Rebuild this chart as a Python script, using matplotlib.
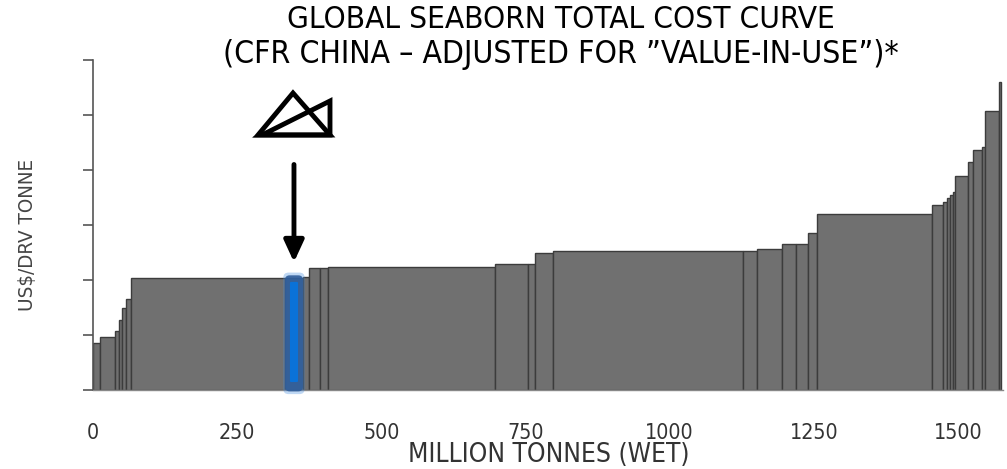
import numpy as np
import matplotlib
matplotlib.use("Agg")
import matplotlib.pyplot as plt
from matplotlib import font_manager
from matplotlib.patches import FancyBboxPatch, Polygon

# tonnage block widths (Mt, wet) and cost per block (US$/dry tonne, unlabeled axis)
widths = [13, 25, 7, 6, 6, 9, 267, 31, 11, 19, 13, 290, 57, 12, 32, 329, 24,
          44, 24, 21, 15, 200, 19, 7, 5, 5, 4, 22, 9, 15, 6, 24, 3]
costs = [17.1, 19.4, 21.5, 25.5, 29.8, 33.1, 40.7, 40.7, 41.0, 44.4, 44.4, 44.7,
         45.7, 45.7, 49.8, 50.5, 50.5, 51.3, 53.1, 53.1, 57.1, 63.9, 67.3, 68.5,
         69.8, 70.9, 72.0, 77.8, 83.0, 87.3, 88.4, 101.5, 112.0]
highlight_index = 7  # the block marked by the arrow

x_ticks = [0, 250, 500, 750, 1000, 1250, 1500]
y_ticks = [0, 20, 40, 60, 80, 100, 120]

title_lines = ["GLOBAL SEABORN TOTAL COST CURVE",
               "(CFR CHINA \u2013 ADJUSTED FOR \u201dVALUE-IN-USE\u201d)*"]
x_label = "MILLION TONNES (WET)"
y_label = "US$/DRV TONNE"

W, H = 1007, 469


def pick_font():
    # prefer a narrow / condensed face, the original uses a condensed sans
    files = [f.fname for f in font_manager.fontManager.ttflist]
    for key in ("LiberationSansNarrow-Regular", "DejaVuSansCondensed.ttf",
                "RobotoCondensed-Regular", "OpenSans_Condensed-Regular"):
        for fn in files:
            if key in fn:
                return fn, 1.1
    return None, 1.0


font_file, grow = pick_font()


def fp(size):
    if font_file:
        return font_manager.FontProperties(fname=font_file, size=size * grow)
    return font_manager.FontProperties(family="DejaVu Sans", size=size)


fig = plt.figure(figsize=(W / 100, H / 100), dpi=100)
ax = fig.add_axes([93 / W, 1 - 390 / H, (1003 - 93) / W, (390 - 60) / H])

lefts = np.concatenate([[0], np.cumsum(widths)[:-1]])
ax.bar(lefts, costs, width=widths, align="edge", color="#707070",
       edgecolor="#3c3c3c", linewidth=1.0, zorder=2)

# highlighted block: glow + core
hl = lefts[highlight_index]
hw = widths[highlight_index]
asp = (20 / 55) / (1 / 0.5767)
glow2 = FancyBboxPatch((hl - 3, -1.5), hw + 6, costs[highlight_index] + 3.5,
                       boxstyle="round,pad=0,rounding_size=9", mutation_aspect=asp,
                       facecolor="#4a90e2", edgecolor="none", alpha=0.35,
                       zorder=3, clip_on=False)
glow1 = FancyBboxPatch((hl, -0.5), hw, costs[highlight_index] + 1.5,
                       boxstyle="round,pad=0,rounding_size=8", mutation_aspect=asp,
                       facecolor="#2f5d9a", edgecolor="none", alpha=0.9,
                       zorder=4, clip_on=False)
core = FancyBboxPatch((hl + 8.5, 2.9), hw - 17, costs[highlight_index] - 4.3,
                      boxstyle="round,pad=0,rounding_size=2", mutation_aspect=asp,
                      facecolor="#0a72d8", edgecolor="none", zorder=5, clip_on=False)
for p in (glow2, glow1, core):
    ax.add_patch(p)

# arrow pointing at the highlighted block
ax.annotate("", xy=(hl + hw / 2, 46.5), xytext=(hl + hw / 2, 82),
            arrowprops=dict(arrowstyle="-|>,head_length=1.3,head_width=0.6",
                            color="black", lw=3.5, shrinkA=0, shrinkB=0),
            annotation_clip=False)

ax.set_xlim(0, 1578)
ax.set_ylim(0, 120)
ax.set_xticks(x_ticks)
ax.set_xticklabels([str(t) for t in x_ticks], fontproperties=fp(14), color="#333333")
ax.set_yticks(y_ticks)
ax.set_yticklabels([])
ax.tick_params(axis="x", length=0, pad=24)
ax.tick_params(axis="y", length=7, width=1.2, color="#555555", direction="out")
for s in ("top", "right"):
    ax.spines[s].set_visible(False)
ax.spines["left"].set_color("#555555")
ax.spines["left"].set_linewidth(1.2)
ax.spines["bottom"].set_color("#888888")
ax.spines["bottom"].set_linewidth(1.0)

fig.text(549 / W, 1 - 455 / H, x_label, ha="center", va="center",
         fontproperties=fp(17.2), color="#333333")
fig.text(28 / W, 1 - 235 / H, y_label, ha="center", va="center", rotation=90,
         fontproperties=fp(13.4), color="#444444")
fig.text(561 / W, 1 - 19 / H, title_lines[0], ha="center", va="center",
         fontproperties=fp(20.5), color="black")
fig.text(561 / W, 1 - 55 / H, title_lines[1], ha="center", va="center",
         fontproperties=fp(20.8), color="black")

# logo (outline triangles) drawn in figure pixel coordinates
def figpt(x, y):
    return (x / W, 1 - y / H)

tri1 = Polygon([figpt(258, 135), figpt(293, 93), figpt(330, 135)], closed=True,
               fill=False, edgecolor="black", linewidth=3.5, joinstyle="miter",
               transform=fig.transFigure)
tri2 = Polygon([figpt(262, 135), figpt(330, 101), figpt(330, 135)], closed=True,
               fill=False, edgecolor="black", linewidth=3.5, joinstyle="miter",
               transform=fig.transFigure)
fig.patches.extend([tri1, tri2])

fig.savefig("out.png", dpi=100)
